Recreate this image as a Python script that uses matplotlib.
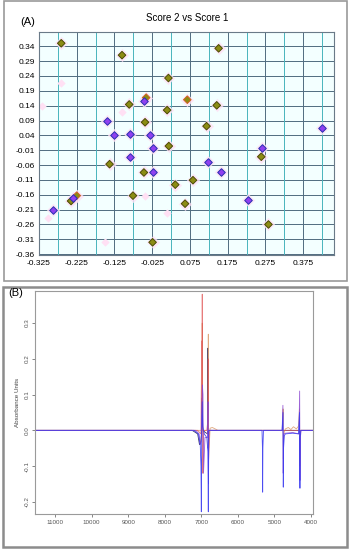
import matplotlib
matplotlib.use("Agg")
import matplotlib.pyplot as plt
from matplotlib.patches import Rectangle
import numpy as np

plt.rcParams["font.family"] = ["Liberation Sans", "DejaVu Sans"]

# --- panel A: score plot -------------------------------------------------
olive_x = [-0.266, -0.105, 0.151, 0.018, -0.041, 0.068, -0.086, 0.0145, 0.146,
           -0.044, 0.119, 0.019, 0.264, -0.138, -0.047, 0.036, 0.083, -0.225,
           -0.076, -0.240, 0.062, 0.283, -0.024]
olive_y = [0.350, 0.310, 0.333, 0.233, 0.167, 0.160, 0.144, 0.125, 0.141,
           0.084, 0.071, 0.004, -0.032, -0.057, -0.085, -0.126, -0.111, -0.163,
           -0.163, -0.181, -0.190, -0.260, -0.320]
# olive points drawn with an orange rim
olive_orange = [4, 5, 17]

purple_x = [-0.046, -0.145, 0.424, -0.127, -0.084, -0.030, -0.024, 0.266,
            -0.085, 0.122, -0.023, 0.158, -0.234, 0.228, -0.288]
purple_y = [0.155, 0.087, 0.066, 0.040, 0.043, 0.041, -0.004, -0.004,
            -0.034, -0.050, -0.083, -0.084, -0.171, -0.176, -0.212]

ghost_x = [-0.266, -0.316, -0.104, -0.045, 0.013, -0.026, -0.300, -0.150]
ghost_y = [0.215, 0.140, 0.118, -0.165, -0.220, -0.318, -0.238, -0.318]

y_ticks = np.round(np.arange(-0.36, 0.341, 0.05), 2)
x_major = np.round(np.arange(-0.325, 0.376, 0.1), 3)
x_minor = np.round(np.arange(-0.275, 0.426, 0.1), 3)

# --- panel B: spectra (vertices) ------------------------------------------
blue_wn = [11550, 7200, 7080, 7030, 7010, 7000, 6990, 6975, 6960, 6920, 6850,
           6820, 6809, 6800, 6780, 6700, 5340, 5328, 5322, 5316, 5300, 4790,
           4765, 4758, 4750, 4730, 4700, 4500, 4340, 4315, 4302, 4295, 4280, 3940]
blue_ab = [0.0, 0.0, -0.01, -0.04, -0.10, -0.228, -0.02, 0.08, 0.01, -0.01, -0.02,
           -0.06, -0.228, 0.0, 0.0, 0.0, 0.0, -0.05, -0.173, -0.05, 0.0, 0.0,
           0.05, -0.159, -0.05, -0.015, -0.01, -0.008, -0.01, 0.05, -0.162, -0.02,
           0.0, 0.0]

purple_wn = [11550, 7150, 7060, 7030, 7005, 6990, 6970, 6955, 6940, 6900, 6830,
             6815, 6805, 6790, 6750, 4790, 4768, 4760, 4752, 4740, 4700, 4500,
             4330, 4310, 4300, 4290, 4270, 3940]
purple_ab = [0.0, 0.0, -0.01, -0.04, -0.03, 0.05, 0.127, 0.10, -0.12, -0.02, -0.02,
             0.08, -0.15, 0.0, 0.0, 0.0, 0.07, -0.12, -0.03, -0.01, -0.008, -0.006,
             -0.01, 0.11, -0.14, -0.02, 0.0, 0.0]

red_wn = [11550, 7100, 7010, 6990, 6980, 6975, 6970, 6960, 6950, 6930, 6850,
          6820, 6812, 6800, 6780, 3940]
red_ab = [0.0, 0.0, -0.01, 0.25, 0.05, 0.381, 0.02, -0.12, -0.05, 0.0, 0.0,
          0.03, 0.20, -0.05, 0.0, 0.0]

orange_wn = [11550, 7100, 6985, 6975, 6965, 6900, 6818, 6809, 6800, 6760, 6700,
             6620, 6550, 4780, 4762, 4756, 4745, 4700, 4620, 4550, 4480, 4400,
             4340, 4315, 4305, 4298, 4280, 3940]
orange_ab = [0.0, 0.0, 0.0, 0.30, 0.0, 0.0, 0.0, 0.269, -0.08, 0.006, 0.008,
             0.004, 0.0, 0.0, 0.06, -0.08, -0.01, 0.004, 0.008, 0.002, 0.01, 0.004,
             0.012, 0.06, -0.10, -0.02, 0.0, 0.0]

navy_wn = [11550, 7250, 7100, 7050, 7020, 6995, 6985, 6960, 6900, 6830, 6820,
           6812, 6800, 6750, 3940]
navy_ab = [0.0, 0.0, -0.01, -0.04, -0.035, -0.01, 0.09, 0.0, -0.005, -0.01, 0.23,
           -0.05, 0.0, 0.0, 0.0]

spectra = [
    (navy_wn, navy_ab, "#23235a", 0.9),
    (orange_wn, orange_ab, "#dca070", 0.9),
    (red_wn, red_ab, "#e05050", 0.75),
    (purple_wn, purple_ab, "#8a45d0", 0.85),
    (blue_wn, blue_ab, "#3a3af0", 0.9),
]

fig = plt.figure(figsize=(3.5, 5.5), dpi=100)

# panel frames
fig.patches.append(Rectangle((4 / 350, 1 - 281 / 550), 343 / 350, 280 / 550,
                             transform=fig.transFigure, fill=False,
                             edgecolor="#9a9a9a", linewidth=1.2))
fig.patches.append(Rectangle((3 / 350, 1 - 547 / 550), 344 / 350, 260 / 550,
                             transform=fig.transFigure, fill=False,
                             edgecolor="#8c8c8c", linewidth=1.8))

ax = fig.add_axes([0.1114, 0.5355, 0.8443, 0.4058])
ax.set_facecolor("#f3ffff")
ax.set_xlim(-0.325, 0.458)
ax.set_ylim(-0.3644, 0.387)
ax.set_yticks(y_ticks)
ax.set_yticklabels([f"{v:.2f}" for v in y_ticks])
ax.set_xticks(x_major)
ax.set_xticklabels([f"{v:.3f}" for v in x_major])
ax.set_xticks(x_minor, minor=True)
ax.tick_params(axis="both", which="both", length=0, labelsize=6, pad=3)
for v in y_ticks:
    ax.axhline(v, color="#506c80", linewidth=0.7, zorder=1)
for v in x_major:
    ax.axvline(v, color="#506c80", linewidth=0.7, zorder=1)
for v in x_minor:
    ax.axvline(v, color="#48b4bc", linewidth=0.7, zorder=1)
for s in ax.spines.values():
    s.set_color("#6a7a88")
    s.set_linewidth(0.8)

ax.scatter(ghost_x, ghost_y, s=18, marker="D", color="#ffe0f4", linewidths=0,
           zorder=2)
ax.scatter(olive_x, olive_y, s=45, marker="D", color="#ffe0f4", linewidths=0,
           alpha=0.8, zorder=2)
ax.scatter(purple_x, purple_y, s=45, marker="D", color="#ffe0f4", linewidths=0,
           alpha=0.8, zorder=2)
olive_edges = ["#d06020" if i in olive_orange else "#4a4a05"
               for i in range(len(olive_x))]
ax.scatter(olive_x, olive_y, s=15, marker="D", color="#8c8c14",
           edgecolors=olive_edges, linewidths=0.7, zorder=3)
ax.scatter(purple_x, purple_y, s=15, marker="D", color="#9040f0",
           edgecolors="#2a30b0", linewidths=0.7, zorder=3)

ax.set_title("Score 2 vs Score 1", fontsize=7, pad=8)
fig.text(20 / 350, 1 - 22 / 550, "(A)", fontsize=8, va="center", ha="left")

# spectra panel
bx = fig.add_axes([0.100, 0.0655, 0.795, 0.4055])
for wn, ab, col, a in spectra:
    bx.plot(wn, ab, color=col, linewidth=0.6, alpha=a)
bx.set_xlim(11550, 3938)
bx.set_ylim(-0.234, 0.39)
bx.set_xticks(np.arange(11000, 3999, -1000))
bx.set_yticks([-0.2, -0.1, 0.0, 0.1, 0.2, 0.3])
bx.set_yticklabels(["-0.2", "-0.1", "0.0", "0.1", "0.2", "0.3"], rotation=90,
                   va="center")
bx.tick_params(axis="both", labelsize=4.5, length=2, width=0.5, pad=2,
               colors="#555555")
bx.set_ylabel("Absorbance Units", fontsize=4.5, color="#444444", labelpad=3)
for s in bx.spines.values():
    s.set_color("#9a9a9a")
    s.set_linewidth(0.8)
fig.text(8 / 350, 1 - 293 / 550, "(B)", fontsize=8, va="center", ha="left")

fig.savefig("out.png", dpi=100)
